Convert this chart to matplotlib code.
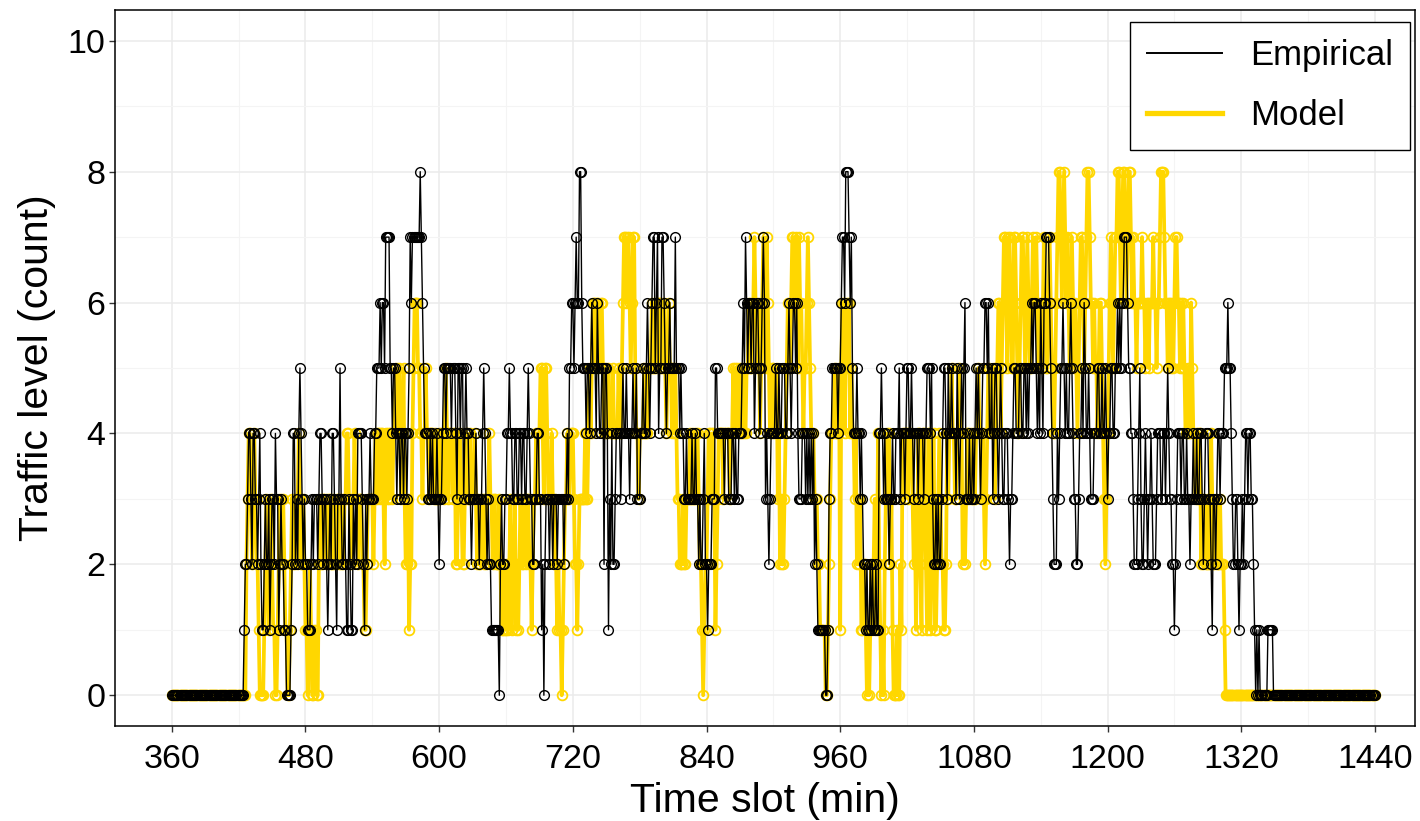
import numpy as np
import matplotlib
matplotlib.use("Agg")
import matplotlib.pyplot as plt
from matplotlib.ticker import MultipleLocator
from matplotlib.lines import Line2D

# traffic level per minute, one string per 30-minute block (360 .. 1439) + last minute 1440
empirical_blocks = [
    "0000000000 0000000000 0000000000",  # 360
    "0000000000 0000000000 0000000000",  # 390
    "0000012234 4324433234 2112322312",  # 420
    "3324331232 2110000124 4232454323",  # 450
    "2211123233 3234432332 1232443213",  # 480
    "3532232113 2113232444 4321323343",  # 510
    "3344555656 6577775545 5434434434",  # 540
    "4345767777 7778765444 3343433343",  # 570
    "2334554555 5455543554 5534544332",  # 600
    "3334332334 5432322111 1111023223",  # 630
    "3445443344 3344344334 5433223344",  # 660
    "3312023332 3323332333 3323343556",  # 690
    "6567668865 5545545655 5465445525",  # 720
    "5413242234 4443454454 4344544533",  # 750
    "3445445654 5677567455 7765455655",  # 780
    "5575554544 3343333433 4332322342",  # 810
    "2122233355 4444443444 3334434334",  # 840
    "4456576566 5664566545 6763432344",  # 870
    "4454454455 5445654566 5643334443",  # 900
    "4343434232 1111111001 3445555545",  # 930
    "5677688876 7544454434 3221211212",  # 960
    "1121144543 4333233433 4445344434",  # 990
    "5544543444 3444434455 5453223232",  # 1020
    "2345543544 5444354345 4563334334",  # 1050
    "3454543455 6656445345 5434543344",  # 1080
    "4323345544 4554455454 5565665454",  # 1110
    "6546677765 4322243455 6545445654",  # 1140
    "3322344546 5445433344 4554454454",  # 1170
    "3445544556 5656677765 5443222345",  # 1200
    "3223432334 3222344433 4434543322",  # 1230
    "1234443443 3433233433 4334432344",  # 1260
    "4332133234 4344455565 5432233212",  # 1290
    "2323443443 3210101000 0000111110",  # 1320
    "0000000000 0000000000 0000000000",  # 1350
    "0000000000 0000000000 0000000000",  # 1380
    "0000000000 0000000000 0000000000",  # 1410
    "0",                                 # 1440
]

model_blocks = [
    "0000000000 0000000000 0000000000",  # 360
    "0000000000 0000000000 0000000000",  # 390
    "0000000234 4323432210 0001232123",  # 420
    "2110012322 3211001232 2323432232",  # 450
    "1101210011 0023223323 2332232233",  # 480
    "2323233443 3233433233 3221123333",  # 510
    "3234344344 3243434434 4544543453",  # 540
    "2231224566 6554434454 4344434333",  # 570
    "4344345434 4434422344 3223443343",  # 600
    "3343232233 2323343323 3222321121",  # 630
    "1212312231 2123223323 3221233434",  # 660
    "4554355433 3432321211 0123343344",  # 690
    "4322123333 3433454566 6566566545",  # 720
    "4454445444 4544567767 7656775443",  # 750
    "4444544455 5655656656 5565456554",  # 780
    "5454332223 2233343343 3443221012",  # 810
    "2344344312 3444434444 4344545544",  # 840
    "5445445565 5667655645 6765765445",  # 870
    "5445342322 3456556776 7657665455",  # 900
    "6765444333 2211111001 2344454445",  # 930
    "1566456564 5443423231 1221010121",  # 960
    "2312421010 2343423100 0100214344",  # 990
    "4344432312 4421443214 4123411234",  # 1020
    "3221124344 5443344544 2323443433",  # 1050
    "4344544343 2345544453 5566456776",  # 1080
    "5776557765 4567765676 5567667656",  # 1110
    "5567655676 5445678876 7876765676",  # 1140
    "5654567765 6788766565 5456654323",  # 1170
    "4567656778 8767887678 8767665666",  # 1200
    "6766566566 6766566788 8766566565",  # 1230
    "6776656565 4454465443 4344232322",  # 1260
    "3224322322 2322210000 0000000000",  # 1290
    "0000000000 0000000000 0000000000",  # 1320
    "0000000000 0000000000 0000000000",  # 1350
    "0000000000 0000000000 0000000000",  # 1380
    "0000000000 0000000000 0000000000",  # 1410
    "0",                                 # 1440
]

x_ticks = [360, 480, 600, 720, 840, 960, 1080, 1200, 1320, 1440]
y_ticks = [0, 2, 4, 6, 8, 10]


def decode(blocks):
    vals = []
    for b in blocks:
        vals += [int(c) for c in b.replace(" ", "")]
    return np.array(vals)


empirical = decode(empirical_blocks)
model = decode(model_blocks)
minutes = np.arange(360, 360 + len(empirical))
assert len(empirical) == len(model) == 1081

plt.rcParams['font.family'] = ['Liberation Sans', 'DejaVu Sans']

fig = plt.figure(figsize=(14.2, 8.21), dpi=100)
ax = fig.add_axes([115 / 1420, 1 - 726 / 821, 1300 / 1420, 716 / 821])

gold = '#FFD700'
ax.plot(minutes, model, color=gold, lw=2.7, marker='o', ms=7, mfc='none',
        mec=gold, mew=1.3, zorder=3)
ax.plot(minutes, empirical, color='black', lw=1.0, marker='o', ms=7, mfc='none',
        mec='black', mew=1.0, zorder=4)

ax.set_xlim(309, 1476)
ax.set_ylim(-0.47, 10.47)
ax.set_xticks(x_ticks)
ax.set_yticks(y_ticks)
ax.xaxis.set_minor_locator(MultipleLocator(60))
ax.yaxis.set_minor_locator(MultipleLocator(1))
ax.grid(which='major', color='#EBEBEB', lw=1.1, zorder=0)
ax.grid(which='minor', color='#F4F4F4', lw=0.8, zorder=0)
ax.set_axisbelow(True)
ax.tick_params(which='major', length=4, width=1, color='#333333', labelsize=24.5,
               labelcolor='black', pad=3)
ax.tick_params(axis='x', which='major', pad=9)
ax.tick_params(which='minor', length=0)
for s in ax.spines.values():
    s.set_color('black')
    s.set_linewidth(1.1)

ax.set_xlabel('Time slot (min)', fontsize=29.5, labelpad=5)
ax.set_ylabel('Traffic level (count)', fontsize=29.5, labelpad=8)

leg_handles = [Line2D([], [], color='black', lw=1.4), Line2D([], [], color=gold, lw=3.8)]
leg = ax.legend(leg_handles, ['Empirical', 'Model'], loc='upper right', fontsize=25,
                frameon=True, fancybox=False, edgecolor='black', framealpha=1,
                borderpad=0.5, handlelength=2.15, handletextpad=0.8, labelspacing=0.78,
                borderaxespad=0, bbox_to_anchor=(1295 / 1300, 704 / 716))
leg.get_frame().set_linewidth(1.0)

fig.savefig('out.png', dpi=100)
